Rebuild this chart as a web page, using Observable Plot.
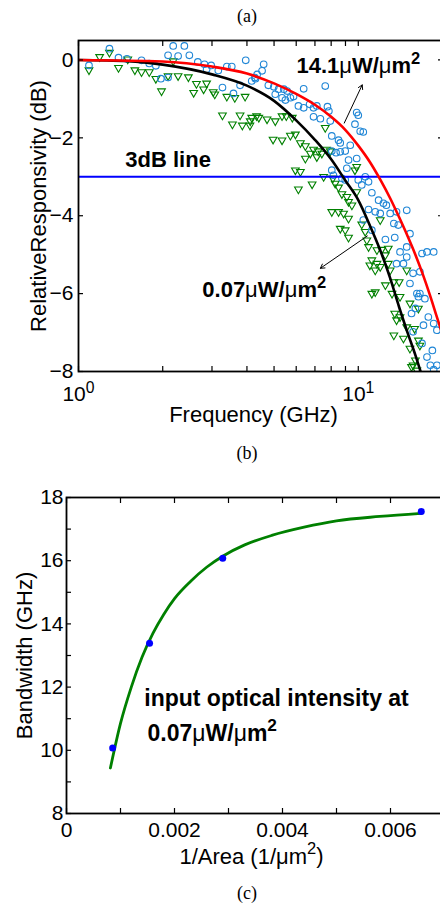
<!DOCTYPE html>
<html><head><meta charset="utf-8">
<script src="https://cdn.jsdelivr.net/npm/d3@7"></script>
<script src="https://cdn.jsdelivr.net/npm/@observablehq/plot@0.6"></script>
<style>
html,body{margin:0;padding:0;overflow:hidden;background:#fff;}
#wrap{position:relative;width:440px;height:907px;overflow:hidden;background:#fff;}
.cap{position:absolute;font-family:"Liberation Serif","Times New Roman",serif;font-size:18px;line-height:1;transform:translateX(-50%);color:#000;}
.panel{position:absolute;left:0;width:470px;}
.panel svg{max-width:none !important;}
</style></head><body><div id="wrap">
<div class="cap" style="left:247px;top:7px">(a)</div>
<div class="panel" id="p1" style="top:0px"></div>
<div class="cap" style="left:247px;top:444px">(b)</div>
<div class="panel" id="p2" style="top:460px"></div>
<div class="cap" style="left:247px;top:884px">(c)</div>
</div>
<script>
// ---------- Panel 1 data: relative responsivity vs frequency ----------
const circleFreq = [1.09,1.29,1.39,1.49,1.68,1.79,1.89,2.09,2.18,2.39,2.27,2.49,2.09,1.97,2.67,2.82,2.98,2.87,3.16,3.39,3.53,3.96,3.27,3.58,3.78,4.16,4.27,
 4.59,4.53,4.35,4.29,4.77,4.99,5.19,5.05,5.42,5.34,5.57,5.72,5.49,6.38,5.87,6.11,6.70,6.92,7.11,7.62,6.38,7.76,7.85,6.92,7.32,7.94,8.04,8.50,8.62,9.36,9.73,9.87,10.0,10.16,10.42,8.04,8.98,8.33,
 8.62,9.23,9.87,8.04,8.15,8.74,10.0,10.29,10.59,10.88,11.18,11.82,12.3,12.6,10.88,11.5,11.98,13.0,13.7,14.9,13.4,13.9,10.42,11.18,12.5,13.5,14.9,15.3,16.9,17.6,9.10,8.98,
 14.1,14.5,14.9,15.7,16.6,15.3,16.4,17.3,16.0,17.8,18.6,19.1,15.7,16.9,18.4,17.6,18.1,19.1,18.6,13.7,16.2,16.6,15.5,17.1,18.6];
const circleDb = [-0.14,0.29,0.06,0.03,-0.01,-0.09,-0.15,0.12,0.36,0.36,0.10,0.12,-0.45,-0.48,-0.05,-0.11,-0.14,-0.24,-0.27,-0.17,-0.17,-0.01,-0.71,-0.86,-0.65,-0.54,-0.45,
 -0.11,-0.28,-0.37,-0.48,-0.65,-0.69,-0.75,-0.88,-0.75,-0.97,-0.80,-0.97,-1.03,-0.74,-0.94,-1.18,-1.14,-1.23,-1.18,-0.67,-1.23,-1.20,-1.31,-1.46,-1.51,-1.57,-1.95,-2.06,-2.13,-2.19,-1.65,-1.35,-1.42,-1.83,-1.85,-2.34,-2.34,-2.38,
 -2.36,-2.57,-2.53,-2.83,-2.96,-3.04,-3.08,-3.21,-3.00,-3.13,-3.41,-3.60,-3.68,-3.73,-3.84,-3.90,-3.94,-3.94,-3.90,-3.86,-4.20,-4.24,-4.11,-4.37,-4.61,-4.56,-4.80,-4.46,-4.97,-4.93,-2.78,-3.08,
 -4.93,-5.23,-5.06,-5.48,-5.44,-5.74,-6.08,-6.13,-6.38,-6.60,-6.77,-6.94,-6.98,-7.28,-7.46,-7.63,-7.84,-7.84,-4.93,-5.23,-6.00,-6.00,-6.51,-6.81,-7.95];

const triFreq = [1.09,1.19,1.29,1.39,1.50,1.59,1.68,1.79,1.89,1.98,2.09,2.27,2.18,2.47,2.58,2.64,2.80,2.87,3.03,3.07,3.39,3.62,3.94,3.27,3.55,3.78,3.85,4.10,4.16,4.33,
 4.11,4.41,4.72,5.05,5.34,5.53,5.81,4.96,5.34,5.72,5.96,6.21,6.47,7.62,6.92,7.19,7.70,7.94,
 5.96,6.21,6.11,6.84,6.47,6.74,7.11,7.41,7.52,8.11,8.27,8.50,8.74,9.10,9.23,9.49,9.87,8.04,8.50,8.86,9.23,8.62,8.98,9.23,10.29,10.59,10.73,10.88,11.98,11.66,12.13,12.8,9.73,9.87,
 11.18,11.0,11.5,11.98,12.5,12.8,13.4,14.0,14.9,12.5,11.5,11.18,13.5,14.1,13.7,13.4,14.5,14.9,15.3,16.4,15.9,16.4,15.3,15.7,16.2,13.0,11.66,14.1,13.2,16.0,16.6,15.5];
const triDb = [-0.26,0.08,0.19,-0.20,0.02,-0.26,-0.31,-0.31,-0.48,-0.80,-0.41,-0.41,-0.03,-0.44,-0.84,-0.61,-0.75,-0.60,-0.82,-0.88,-0.94,-0.97,-0.94,-1.42,-1.65,-1.42,-1.68,-1.68,-1.48,-1.44,
 -1.57,-1.48,-1.52,-1.57,-1.44,-1.44,-1.48,-2.04,-2.06,-1.94,-1.91,-2.13,-2.21,-1.74,-2.30,-2.34,-2.30,-2.34,
 -2.83,-2.87,-3.32,-3.19,-2.53,-2.40,-2.49,-2.40,-3.00,-3.04,-3.17,-3.27,-3.44,-3.51,-3.64,-3.73,-3.39,-3.90,-3.90,-3.94,-4.07,-4.33,-4.37,-4.56,-4.22,-4.41,-4.63,-4.80,-4.11,-4.88,-4.87,-4.84,-2.83,-2.74,
 -5.14,-5.27,-5.40,-5.31,-5.01,-5.23,-5.70,-5.70,-5.40,-5.78,-5.96,-6.00,-6.51,-6.60,-6.68,-7.07,-7.15,-6.86,-6.25,-6.38,-6.90,-7.20,-7.41,-7.84,-7.97,-5.40,-5.23,-6.08,-6.00,-7.71,-7.33,-7.88];

const fitHighFreq = [1, 2, 3, 4, 5, 6, 7, 8, 9, 10, 11, 12, 13, 14, 15, 16, 17, 18, 19, 20];
const fitHighDb   = [0, -0.04, -0.17, -0.35, -0.6, -0.87, -1.15, -1.46, -1.8, -2.2, -2.62, -3.08, -3.55, -4.04, -4.52, -5.0, -5.5, -6.02, -6.55, -7.05];
const fitLowFreq  = [1, 1.5, 2, 3, 4, 5, 6, 7, 8, 9, 10, 11, 12, 13, 14, 15, 16, 16.7];
const fitLowDb    = [0, -0.03, -0.12, -0.37, -0.66, -1.05, -1.55, -2.05, -2.55, -3.1, -3.6, -4.25, -4.9, -5.6, -6.35, -7.0, -7.58, -8.0];

const freqTicks = [1,2,3,4,5,6,7,8,9,10,20];
const freqTickLabels = {1: "10^0", 10: "10^1"};
const dbTicks = [-8,-6,-4,-2,0];
const threeDb = [-3];

const annotText1 = ["14.1μW/μm^2", "3dB line", "0.07μW/μm^2"];
const annotFreq1 = [6.01, 1.47, 2.77];
const annotDb1   = [-0.33, -2.75, -6.09];
const arrowFromFreq = [8.91, 10.77], arrowFromDb = [-1.62, -4.52];
const arrowToFreq   = [10.33, 7.32], arrowToDb   = [-0.64, -5.35];

// ---------- Panel 2 data: bandwidth vs 1/area ----------
const invArea   = [0.000855, 0.001538, 0.002893, 0.00657];
const bandwidth = [10.07, 13.39, 16.08, 17.56];
const fitInvArea   = [0.000813, 0.001, 0.0012, 0.0014, 0.0016, 0.0018, 0.002, 0.0023, 0.0026, 0.0029, 0.0033, 0.0038, 0.0044, 0.005, 0.0058, 0.00657];
const fitBandwidth = [9.44, 10.85, 12.0, 12.95, 13.7, 14.3, 14.8, 15.35, 15.8, 16.15, 16.5, 16.8, 17.06, 17.26, 17.4, 17.5];
const areaTicks = [0, 0.001, 0.002, 0.003, 0.004, 0.005, 0.006, 0.007];
const areaLabeled = [0, 0.002, 0.004, 0.006];
const bwTicks = [8,9,10,11,12,13,14,15,16,17,18];
const bwLabeled = [8,10,12,14,16,18];
const annotText2 = ["input optical intensity at", "0.07μW/μm^2"];
const annotX2 = [0.00144, 0.0015];
const annotY2 = [11.41, 10.30];

// ---------- helpers ----------
const FONT = '"Liberation Sans", Arial, Helvetica, sans-serif';
const triDown = {draw(ctx, size) {
  const r = Math.sqrt(size / Math.PI) * 1.2;
  ctx.moveTo(0, r);
  ctx.lineTo(-r * 0.866, -r / 2);
  ctx.lineTo(r * 0.866, -r / 2);
  ctx.closePath();
}};
function rich(svg) {
  const ns = "http://www.w3.org/2000/svg";
  svg.querySelectorAll("text").forEach(t => {
    if (t.querySelector("tspan")) return;
    const s = t.textContent;
    if (!/[\^μ]/.test(s)) return;
    t.textContent = "";
    const add = (str, attrs) => {
      const ts = document.createElementNS(ns, "tspan");
      ts.textContent = str;
      for (const k in attrs) ts.setAttribute(k, attrs[k]);
      t.appendChild(ts);
    };
    const runs = s.split(/(\^.|μ)/).filter(Boolean);
    let raised = false;
    for (const r of runs) {
      if (r.startsWith("^")) { add(r.slice(1), {dy: "-0.55em", "font-size": "75%"}); raised = true; }
      else if (r === "μ") { add(r, {"font-weight": "normal"}); }
      else { add(r, raised ? {dy: "0.41em"} : {}); raised = false; }
    }
  });
}

const circles = circleFreq.map((f, i) => ({f, db: circleDb[i]}));
const tris = triFreq.map((f, i) => ({f, db: triDb[i]}));
const fitHigh = fitHighFreq.map((f, i) => ({f, db: fitHighDb[i]}));
const fitLow = fitLowFreq.map((f, i) => ({f, db: fitLowDb[i]}));
const annot1 = annotText1.map((label, i) => ({label, f: annotFreq1[i], db: annotDb1[i]}));
const arrows = arrowFromFreq.map((f, i) => ({x1: f, y1: arrowFromDb[i], x2: arrowToFreq[i], y2: arrowToDb[i]}));

const p1 = Plot.plot({
  width: 452, height: 440,
  marginLeft: 78, marginRight: 10, marginTop: 40, marginBottom: 69,
  style: {fontFamily: FONT, fontSize: "21px", background: "transparent", color: "black", maxWidth: "none"},
  x: {type: "log", domain: [1, 20]},
  y: {domain: [-8, 0.5]},
  marks: [
    Plot.dot(tris, {x: "f", y: "db", symbol: triDown, r: 3.7, stroke: "#008000", strokeWidth: 1.1, fill: "none", clip: true}),
    Plot.dot(circles, {x: "f", y: "db", r: 3.3, stroke: "#1f86d6", strokeWidth: 1.1, fill: "none", clip: true}),
    Plot.ruleY(threeDb, {stroke: "#0000ff", strokeWidth: 2}),
    Plot.line(fitLow, {x: "f", y: "db", stroke: "black", strokeWidth: 2.6, curve: "monotone-x", clip: true}),
    Plot.line(fitHigh, {x: "f", y: "db", stroke: "#ff0000", strokeWidth: 2.6, curve: "monotone-x", clip: true}),
    Plot.arrow(arrows, {x1: "x1", y1: "y1", x2: "x2", y2: "y2", stroke: "black", strokeWidth: 1, headLength: 7}),
    Plot.text(annot1, {x: "f", y: "db", text: "label", textAnchor: "start", lineAnchor: "bottom", fontWeight: "bold", fontSize: 22}),
    Plot.frame({stroke: "black", strokeWidth: 1.8}),
    Plot.axisX({anchor: "bottom", ticks: freqTicks, tickSize: -5, tickPadding: 20, strokeWidth: 1.2,
      tickFormat: d => freqTickLabels[d] || "", label: null}),
    Plot.axisX({anchor: "top", ticks: freqTicks, tickSize: -5, strokeWidth: 1.2, tickFormat: () => "", label: null}),
    Plot.axisY({anchor: "left", ticks: dbTicks, tickSize: -5, tickPadding: 10, strokeWidth: 1.2, label: null}),
    Plot.axisY({anchor: "right", ticks: dbTicks, tickSize: -5, strokeWidth: 1.2, tickFormat: () => "", label: null}),
    Plot.text(["Frequency (GHz)"], {frameAnchor: "bottom", dy: 50, dx: -7, textAnchor: "middle", lineAnchor: "bottom", fontSize: 22}),
    Plot.text(["RelativeResponsivity (dB)"], {frameAnchor: "left", rotate: -90, dx: -33, textAnchor: "middle", lineAnchor: "bottom", fontSize: 22})
  ]
});
rich(p1);
document.getElementById("p1").appendChild(p1);

const pts2 = invArea.map((x, i) => ({x, y: bandwidth[i]}));
const fit2 = fitInvArea.map((x, i) => ({x, y: fitBandwidth[i]}));
const annot2 = annotText2.map((label, i) => ({label, x: annotX2[i], y: annotY2[i]}));

const p2 = Plot.plot({
  width: 454, height: 440,
  marginLeft: 66, marginRight: 10, marginTop: 37, marginBottom: 87,
  style: {fontFamily: FONT, fontSize: "21px", background: "transparent", color: "black", maxWidth: "none"},
  x: {domain: [0, 0.007]},
  y: {domain: [8, 18]},
  marks: [
    Plot.line(fit2, {x: "x", y: "y", stroke: "#008000", strokeWidth: 2.8, curve: "monotone-x"}),
    Plot.dot(pts2, {x: "x", y: "y", r: 3.5, fill: "#0000ff", stroke: "none"}),
    Plot.text(annot2, {x: "x", y: "y", text: "label", textAnchor: "start", lineAnchor: "bottom", fontWeight: "bold", fontSize: 23}),
    Plot.frame({stroke: "black", strokeWidth: 1.8}),
    Plot.axisX({anchor: "bottom", ticks: areaTicks, tickSize: -5, tickPadding: 14, strokeWidth: 1.2,
      tickFormat: d => areaLabeled.includes(d) ? (d === 0 ? "0" : d3.format(".3f")(d)) : "", label: null}),
    Plot.axisX({anchor: "top", ticks: areaTicks, tickSize: -5, strokeWidth: 1.2, tickFormat: () => "", label: null}),
    Plot.axisY({anchor: "left", ticks: bwTicks, tickSize: -5, tickPadding: 8, strokeWidth: 1.2,
      tickFormat: d => bwLabeled.includes(d) ? String(d) : "", label: null}),
    Plot.axisY({anchor: "right", ticks: bwTicks, tickSize: -5, strokeWidth: 1.2, tickFormat: () => "", label: null}),
    Plot.text(["1/Area (1/μm^2)"], {frameAnchor: "bottom", dy: 50, dx: -4, textAnchor: "middle", lineAnchor: "bottom", fontSize: 22}),
    Plot.text(["Bandwidth (GHz)"], {frameAnchor: "left", rotate: -90, dx: -35, textAnchor: "middle", lineAnchor: "bottom", fontSize: 22})
  ]
});
rich(p2);
document.getElementById("p2").appendChild(p2);
</script>
</body></html>
